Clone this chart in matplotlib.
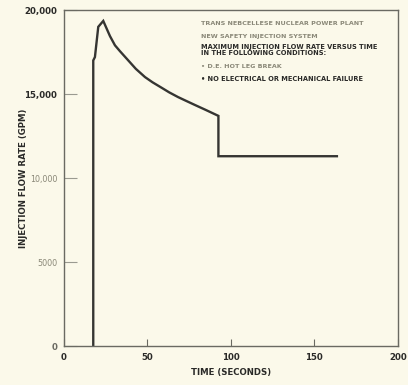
import matplotlib
matplotlib.use("Agg")
import matplotlib.pyplot as plt

# flow curve
time_s = [17.5, 17.5, 18.5, 20.5, 23.5, 25.5, 27.5, 30.5, 33.5, 38.3, 43.0, 48.5,
          53.0, 58.7, 63.0, 68.3, 73.0, 78.4, 85.0, 92.5, 92.5, 163.5]
flow_gpm = [0, 17000, 17200, 19000, 19350, 18900, 18450, 17900, 17550, 17020, 16500, 16010,
            15700, 15360, 15100, 14820, 14600, 14350, 14050, 13700, 11300, 11300]

y_ticks = [0, 5000, 10000, 15000, 20000]
y_labels = ["0", "5000", "10,000", "15,000", "20,000"]
x_ticks = [0, 50, 100, 150, 200]
x_labels = ["0", "50", "100", "150", "200"]

notes_light = ["TRANS NEBCELLESE NUCLEAR POWER PLANT",
               "NEW SAFETY INJECTION SYSTEM"]
notes_dark = ["MAXIMUM INJECTION FLOW RATE VERSUS TIME\nIN THE FOLLOWING CONDITIONS:"]
bullets = [("\u2022 D.E. HOT LEG BREAK", "#8a8878"),
           ("\u2022 NO ELECTRICAL OR MECHANICAL FAILURE", "#2a2a28")]

BG = "#fbf9ea"
INK = "#2a2a28"
FONT = "Liberation Sans Narrow"

fig = plt.figure(figsize=(4.08, 3.85), dpi=100, facecolor=BG)
ax = fig.add_axes([0.157, 0.101, 0.818, 0.873], facecolor=BG)

ax.plot(time_s, flow_gpm, color="#353532", lw=1.7, solid_joinstyle="miter")

ax.set_xlim(0, 200)
ax.set_ylim(0, 20000)
for s in ax.spines.values():
    s.set_color("#6a6a62")
    s.set_linewidth(1.0)

ax.set_yticks(y_ticks)
ax.set_yticklabels(y_labels, fontfamily=FONT, fontweight="bold", fontsize=6.2)
ax.set_xticks(x_ticks)
ax.set_xticklabels(x_labels, fontfamily=FONT, fontweight="bold", fontsize=6.2)
ax.tick_params(axis="y", direction="in", length=9, color="#9a9a90", pad=5)
ax.tick_params(axis="x", direction="in", length=5, color="#6a6a62", pad=5)
# the faint middle labels are printed lighter and narrower in the scan
for lbl, c in zip(ax.get_yticklabels(), ["#6a6a62", "#8a8878", "#8a8878", INK, INK]):
    lbl.set_color(c)
for lbl in ax.get_yticklabels()[1:3]:
    lbl.set_fontweight("normal")
    lbl.set_fontsize(5.8)
for lbl in ax.get_xticklabels():
    lbl.set_color(INK)

ax.set_xlabel("TIME (SECONDS)", fontfamily=FONT, fontweight="bold", fontsize=6.2,
              color=INK, labelpad=4)
ax.set_ylabel("INJECTION FLOW RATE (GPM)", fontfamily=FONT, fontweight="bold",
              fontsize=6.2, color=INK)
ax.yaxis.set_label_coords(-0.108, 0.5)

tx = 0.41
ax.text(tx, 0.967, notes_light[0], transform=ax.transAxes, fontfamily=FONT,
        fontweight="bold", fontsize=4.6, color="#8a8878", va="top")
ax.text(tx, 0.930, notes_light[1], transform=ax.transAxes, fontfamily=FONT,
        fontweight="bold", fontsize=4.6, color="#8a8878", va="top")
ax.text(tx, 0.898, notes_dark[0], transform=ax.transAxes, fontfamily=FONT,
        fontweight="bold", fontsize=4.8, color=INK, va="top", linespacing=0.95)
ax.text(tx, 0.840, bullets[0][0], transform=ax.transAxes, fontfamily=FONT,
        fontweight="bold", fontsize=4.6, color=bullets[0][1], va="top")
ax.text(tx, 0.805, bullets[1][0], transform=ax.transAxes, fontfamily=FONT,
        fontweight="bold", fontsize=4.8, color=bullets[1][1], va="top")

fig.savefig("out.png", dpi=100, facecolor=BG)
